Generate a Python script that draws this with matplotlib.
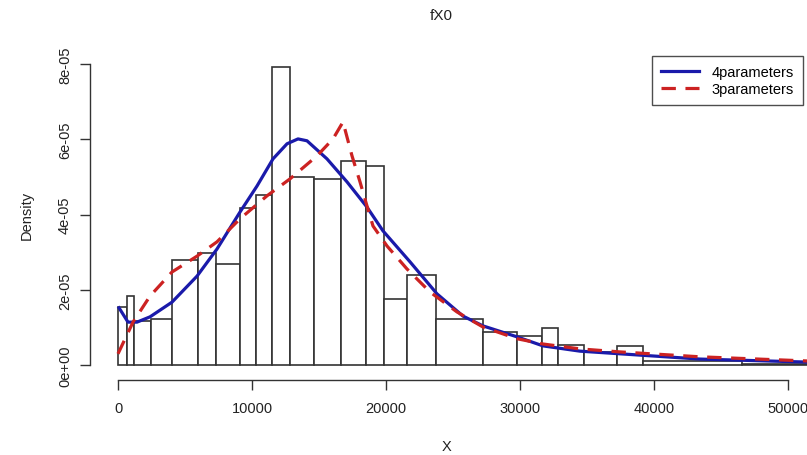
import matplotlib
matplotlib.use("Agg")
import matplotlib.pyplot as plt
import numpy as np

plt.rcParams['font.family'] = ['Liberation Sans', 'DejaVu Sans']

# Histogram (irregular bins), density values in units of 1e-5
bin_edges = [0, 672, 1194, 2463, 4030, 5970, 7313, 9104, 10299, 11493, 12836,
             14627, 16642, 18507, 19851, 21567, 23731, 27239, 29776, 31642,
             32836, 34776, 37239, 39179, 46567, 53000]
bar_density = [1.55, 1.84, 1.18, 1.23, 2.80, 2.98, 2.69, 4.18, 4.52, 7.92, 5.00,
               4.95, 5.42, 5.29, 1.76, 2.40, 1.23, 0.89, 0.78, 0.99, 0.54, 0.35,
               0.52, 0.12, 0.04]

# Fitted density curves (x, density in 1e-5)
x4 = [75, 746, 1418, 2388, 4030, 5896, 7388, 9104, 10373, 11567, 12612, 13433,
      14104, 15597, 17090, 18582, 19776, 21791, 23806, 25746, 27239, 29776,
      31716, 34478, 37463, 43433, 51418]
y4 = [1.53, 1.15, 1.15, 1.29, 1.68, 2.37, 3.09, 4.07, 4.76, 5.48, 5.88, 6.01,
      5.96, 5.48, 4.87, 4.20, 3.57, 2.75, 1.90, 1.31, 1.05, 0.76, 0.52, 0.38,
      0.31, 0.17, 0.09]
x3 = [0, 1119, 2388, 4030, 5896, 7388, 9104, 11119, 12836, 14851, 16045, 16791,
      17463, 18060, 18582, 19030, 20075, 21567, 23284, 25299, 27239, 29776,
      31716, 34478, 37463, 43433, 51418]
y3 = [0.31, 1.15, 1.84, 2.48, 2.90, 3.28, 3.89, 4.50, 4.95, 5.56, 6.01, 6.46,
      5.56, 4.87, 4.23, 3.70, 3.17, 2.56, 1.95, 1.42, 1.02, 0.71, 0.57, 0.44,
      0.36, 0.23, 0.12]

x_ticks = [0, 10000, 20000, 30000, 40000, 50000]
y_ticks = [0, 2e-5, 4e-5, 6e-5, 8e-5]
y_ticklabels = ["0e+00", "2e-05", "4e-05", "6e-05", "8e-05"]

W, H = 807, 456
fig = plt.figure(figsize=(W / 100, H / 100), dpi=100)
# axes region in pixels: left 90, right 807, top 40, bottom 381
L, R, T, B = 90, 807, 40, 381
ax = fig.add_axes([L / W, 1 - B / H, (R - L) / W, (B - T) / H])
ax.set_xlim(-2090, 51418)
ax.set_ylim(-0.385e-5, 8.66e-5)

edges = np.array(bin_edges, dtype=float)
dens = np.array(bar_density) * 1e-5
ax.bar(edges[:-1], dens, width=np.diff(edges), align='edge', facecolor='white',
       edgecolor='#333333', linewidth=1.2, zorder=2)

ax.plot(x4, np.array(y4) * 1e-5, color='#1a1aaa', linewidth=2.3, zorder=3,
        label='4parameters')
ax.plot(x3, np.array(y3) * 1e-5, color='#cc2222', linewidth=2.3, zorder=4,
        dashes=(4.5, 3), label='3parameters')

for s in ['top', 'right']:
    ax.spines[s].set_visible(False)
ax.spines['left'].set_bounds(0, 8e-5)
ax.spines['bottom'].set_bounds(0, 50000)
for s in ['left', 'bottom']:
    ax.spines[s].set_color('#333333')
    ax.spines[s].set_linewidth(1.0)

ax.set_xticks(x_ticks)
ax.set_xticklabels([str(v) for v in x_ticks], fontsize=10.5, color='#222222')
ax.set_yticks(y_ticks)
ax.set_yticklabels(y_ticklabels, fontsize=10.5, color='#222222', rotation=90,
                   va='center')
ax.tick_params(axis='x', length=7, width=1.0, color='#333333', pad=8)
ax.tick_params(axis='y', length=7, width=1.0, color='#333333', pad=6)

fig.text(441 / W, 1 - 16 / H, 'fX0', ha='center', va='center', fontsize=11,
         color='#222222')
fig.text(447 / W, 1 - 447 / H, 'X', ha='center', va='center', fontsize=10.5,
         color='#222222')
fig.text(27 / W, 1 - 215 / H, 'Density', ha='center', va='center', fontsize=10.5,
         rotation=90, color='#222222')

leg = ax.legend(loc='upper left', bbox_to_anchor=((652 - L) / (R - L), 1 - (57 - T) / (B - T)),
                fontsize=10.5, frameon=True, fancybox=False, borderpad=0.6,
                handlelength=2.6, labelspacing=0.25, handletextpad=0.9,
                borderaxespad=0)
leg.get_frame().set_edgecolor('#222222')
leg.get_frame().set_linewidth(1.0)

fig.savefig('out.png', dpi=100)
